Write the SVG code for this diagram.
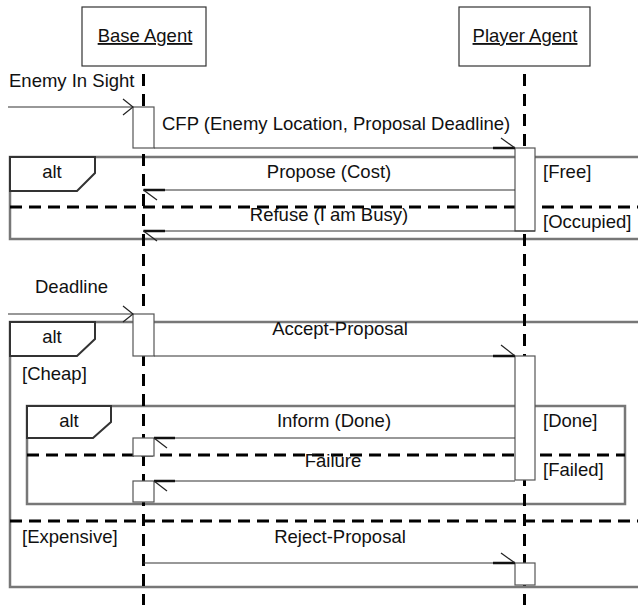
<svg xmlns="http://www.w3.org/2000/svg" width="638" height="605" viewBox="0 0 638 605">
<style>
text{font-family:"Liberation Sans",Arial,sans-serif;font-size:18.5px;fill:#111}
.mid{text-anchor:middle}
.head{fill:#fff;stroke:#333;stroke-width:1.2}
.life{stroke:#000;stroke-width:3;stroke-dasharray:12 8;fill:none}
.sep{stroke:#000;stroke-width:3;stroke-dasharray:12 7;fill:none}
.frame{fill:none;stroke:#777;stroke-width:2.5}
.label{fill:#fff;stroke:#333;stroke-width:2}
.act{fill:#fff;stroke:#555;stroke-width:1.2}
.msg{stroke:#333;stroke-width:1.2;fill:none}
.tip{stroke:#111;stroke-width:2.5;fill:none}
.barb{stroke:#222;stroke-width:1.2;fill:none}
</style>
<g id="frames">
<rect class="frame" x="10" y="157" width="640" height="82"/>
<rect class="frame" x="10" y="322" width="640" height="265"/>
<rect class="frame" x="27" y="406" width="598" height="98"/>
</g>
<g id="base-agent">
<rect class="head" x="82" y="7" width="124" height="59"/>
<text class="mid" x="145" y="42" text-decoration="underline">Base Agent</text>
<line class="life" x1="143.5" y1="74" x2="143.5" y2="605"/>
</g>
<g id="player-agent">
<rect class="head" x="459" y="7" width="131" height="59"/>
<text class="mid" x="525" y="42" text-decoration="underline">Player Agent</text>
<line class="life" x1="524.5" y1="74" x2="524.5" y2="605"/>
</g>
<g id="alt1">
<path class="label" d="M10,157 H95 V173 L77,191 H10 Z"/>
<text class="mid" x="52" y="178">alt</text>
<line class="sep" x1="10" y1="207" x2="638" y2="207"/>
<text x="543" y="178">[Free]</text>
<text x="543" y="228">[Occupied]</text>
</g>
<g id="alt2">
<path class="label" d="M10,322 H95 V339 L77,356 H10 Z"/>
<text class="mid" x="52" y="343">alt</text>
<text x="22" y="380">[Cheap]</text>
<line class="sep" x1="10" y1="521" x2="638" y2="521"/>
<text x="22" y="543">[Expensive]</text>
</g>
<g id="alt3">
<path class="label" d="M27,406 H111 V422 L93,438 H27 Z"/>
<text class="mid" x="69" y="427">alt</text>
<line class="sep" x1="27" y1="455" x2="625" y2="455"/>
<text x="543" y="427">[Done]</text>
<text x="543" y="476">[Failed]</text>
</g>
<g id="activations">
<rect class="act" x="133" y="107" width="21" height="41"/>
<rect class="act" x="515" y="148" width="20" height="83"/>
<rect class="act" x="133" y="314" width="21" height="42"/>
<rect class="act" x="515" y="356" width="20" height="124"/>
<rect class="act" x="133" y="438" width="21" height="18"/>
<rect class="act" x="133" y="481" width="21" height="21"/>
<rect class="act" x="515" y="563" width="20" height="22"/>
</g>
<g id="connectors">
<line class="msg" x1="8" y1="107" x2="133" y2="107"/>
<polyline class="barb" points="123,99 133,107 123,115"/>
<line class="msg" x1="154" y1="148" x2="515" y2="148"/>
<line class="tip" x1="493" y1="148" x2="515" y2="148"/>
<line class="barb" x1="501" y1="138" x2="515" y2="148"/>
<line class="msg" x1="143.5" y1="190" x2="515" y2="190"/>
<line class="tip" x1="143.5" y1="190" x2="165" y2="190"/>
<line class="barb" x1="143.5" y1="190" x2="157" y2="200"/>
<line class="msg" x1="143.5" y1="231" x2="535" y2="231"/>
<line class="tip" x1="143.5" y1="231" x2="165" y2="231"/>
<line class="barb" x1="143.5" y1="231" x2="157" y2="241"/>
<line class="msg" x1="8" y1="314" x2="133" y2="314"/>
<polyline class="barb" points="123,306 133,314 123,322"/>
<line class="msg" x1="154" y1="356" x2="515" y2="356"/>
<line class="tip" x1="493" y1="356" x2="515" y2="356"/>
<line class="barb" x1="501" y1="345" x2="515" y2="356"/>
<line class="msg" x1="154" y1="438" x2="515" y2="438"/>
<line class="tip" x1="154" y1="438" x2="175" y2="438"/>
<line class="barb" x1="154" y1="438" x2="167" y2="448"/>
<line class="msg" x1="154" y1="481" x2="515" y2="481"/>
<line class="tip" x1="154" y1="481" x2="175" y2="481"/>
<line class="barb" x1="154" y1="481" x2="167" y2="491"/>
<line class="msg" x1="143.5" y1="563" x2="515" y2="563"/>
<line class="tip" x1="493" y1="563" x2="515" y2="563"/>
<line class="barb" x1="501" y1="553" x2="515" y2="563"/>
</g>
<g id="labels">
<text x="9" y="87">Enemy In Sight</text>
<text x="162" y="130">CFP (Enemy Location, Proposal Deadline)</text>
<text class="mid" x="329" y="178">Propose (Cost)</text>
<text class="mid" x="329" y="221">Refuse (I am Busy)</text>
<text x="35" y="293">Deadline</text>
<text class="mid" x="340" y="335">Accept-Proposal</text>
<text class="mid" x="334" y="427">Inform (Done)</text>
<text class="mid" x="333" y="467">Failure</text>
<text class="mid" x="340" y="543">Reject-Proposal</text>
</g>
</svg>
